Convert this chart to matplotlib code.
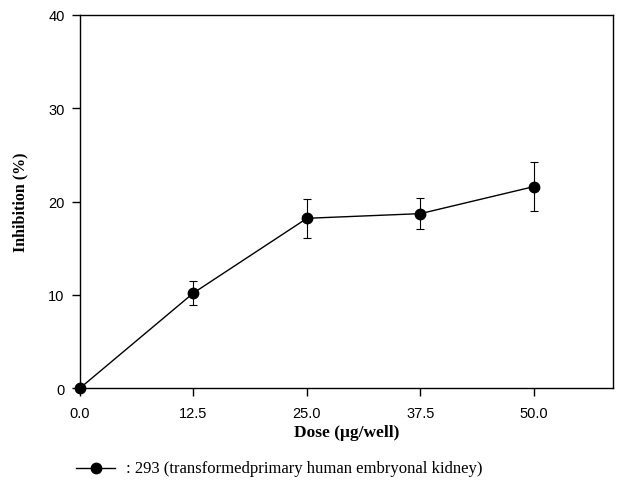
import matplotlib
matplotlib.use("Agg")
import matplotlib.pyplot as plt
from matplotlib import font_manager

dose = [0.0, 12.5, 25.0, 37.5, 50.0]
inhibition = [0.0, 10.2, 18.2, 18.7, 21.6]
err = [0.0, 1.25, 2.1, 1.7, 2.65]
xticks = [0.0, 12.5, 25.0, 37.5, 50.0]
xtick_labels = ["0.0", "12.5", "25.0", "37.5", "50.0"]
yticks = [0, 10, 20, 30, 40]
legend_label = ": 293 (transformedprimary human embryonal kidney)"

names = {f.name for f in font_manager.fontManager.ttflist}
tick_family = "Liberation Sans Narrow" if "Liberation Sans Narrow" in names else "Liberation Sans"
tick_size = 12 if tick_family == "Liberation Sans Narrow" else 10.5

fig = plt.figure(figsize=(6.19, 4.81), dpi=100)
ax = fig.add_axes([0.1292, 0.191, 0.8611, 0.776])

ax.errorbar(dose, inhibition, yerr=err, color="black", marker="o", markersize=7.5,
            linewidth=1.0, elinewidth=0.8, capsize=3, capthick=0.8, clip_on=False, zorder=3)

ax.set_xlim(0, 58.7)
ax.set_ylim(0, 40)
ax.set_xticks(xticks)
ax.set_xticklabels(xtick_labels)
ax.set_yticks(yticks)
for s in ax.spines.values():
    s.set_linewidth(1.0)
ax.tick_params(direction="out", length=6, width=1, labelsize=tick_size)
ax.tick_params(axis="x", pad=7)
ax.tick_params(axis="y", pad=5)
for lab in ax.get_xticklabels() + ax.get_yticklabels():
    lab.set_family(tick_family)

ax.set_xlabel("Dose (μg/well)", fontfamily="Liberation Serif", fontweight="bold", fontsize=12.5, labelpad=3)
ax.set_ylabel("Inhibition (%)", fontfamily="Liberation Serif", fontweight="bold", fontsize=11.5, labelpad=14)

# legend entry below the axes
fig.lines.append(plt.Line2D([0.123, 0.186], [0.025, 0.025], color="black", linewidth=1.0,
                            transform=fig.transFigure))
fig.lines.append(plt.Line2D([0.155], [0.025], color="black", marker="o", markersize=7.5,
                            linestyle="none", transform=fig.transFigure))
fig.text(0.204, 0.025, legend_label,
         fontfamily="Liberation Serif", fontsize=12, va="center", ha="left")

fig.savefig("out.png", dpi=100)
